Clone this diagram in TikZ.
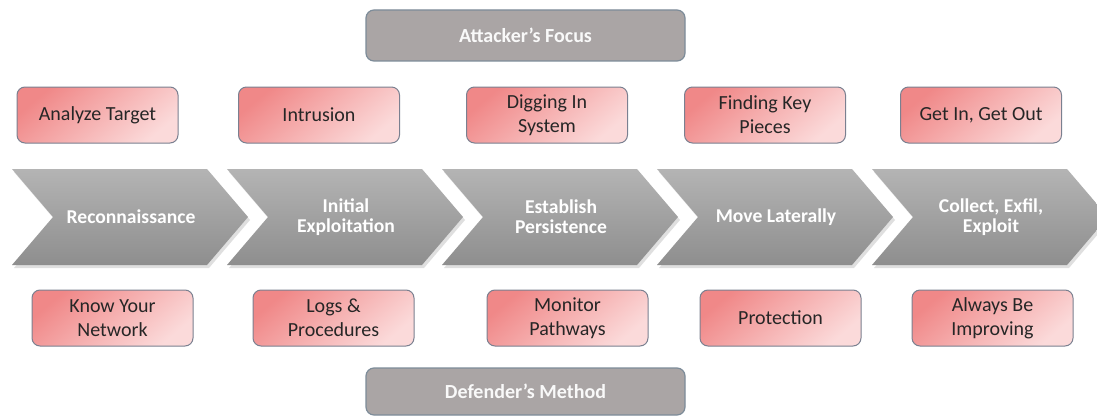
\documentclass[tikz,border=0pt]{standalone}
\usepackage{fontspec}
\setmainfont{Carlito}
\usetikzlibrary{shadows}
\definecolor{redTop}{HTML}{F08888}
\definecolor{redBot}{HTML}{FBDADA}
\definecolor{boxBorder}{HTML}{7A8090}
\definecolor{chevTop}{HTML}{B4B4B4}
\definecolor{chevBot}{HTML}{8E8E8E}
\definecolor{grayBox}{HTML}{AAA5A5}
\definecolor{grayBorder}{HTML}{7D8C99}
\definecolor{txt}{HTML}{262626}
\tikzset{
  redbox/.style={draw=boxBorder, line width=1pt, rounded corners=8pt,
    minimum width=161pt, minimum height=56pt, inner sep=0pt,
    top color=redTop, bottom color=redBot, shading angle=40,
    align=center, text=txt, font=\fontsize{20}{24}\selectfont},
  graybox/.style={draw=grayBorder, line width=1.2pt, rounded corners=8pt,
    minimum width=319pt, inner sep=0pt, fill=grayBox,
    text=white!95!gray, font=\bfseries\fontsize{20}{22}\selectfont},
  chevtext/.style={text=white, align=center, inner sep=0pt,
    font=\bfseries\fontsize{19.6}{20}\selectfont},
  chevron/.style={top color=chevTop, bottom color=chevBot,
    drop shadow={opacity=0.25, shadow xshift=2pt, shadow yshift=-3pt}}
}
\begin{document}
\begin{tikzpicture}[x=1pt,y=1pt]
\useasboundingbox (0,0) rectangle (1097,416);
\fill[white] (0,0) rectangle (1097,416);
% gray header boxes
\node[graybox, minimum height=51pt] (focus) at (525.5,380.5) {Attacker’s Focus};
\node[graybox, minimum height=47pt] (method) at (525.5,24.5) {Defender’s Method};
% chevrons
\begin{scope}
\clip (0,0) rectangle (1097,416);
\foreach \x/\name/\txt in {12/c1/Reconnaissance, 227/c2/{Initial\\Exploitation}, 442/c3/{Establish\\Persistence}, 657/c4/Move Laterally, 872/c5/{Collect, Exfil,\\Exploit}}{
  \path[chevron] (\x,247) -- (\x+195,247) -- (\x+236,199) -- (\x+195,151) -- (\x,151) -- (\x+41,199) -- cycle;
  \node[chevtext] (\name) at (\x+119,199) {\txt};
}
\end{scope}
% attacker boxes
\node[redbox] (a1) at (97.5,301) {Analyze Target};
\node[redbox] (a2) at (319,301) {Intrusion};
\node[redbox] (a3) at (547,301) {Digging In\\System};
\node[redbox] (a4) at (765,301) {Finding Key\\Pieces};
\node[redbox] (a5) at (981,301) {Get In, Get Out};
% defender boxes
\node[redbox] (d1) at (112.5,98) {Know Your\\Network};
\node[redbox] (d2) at (333.5,98) {Logs \&\\Procedures};
\node[redbox] (d3) at (567.5,98) {Monitor\\Pathways};
\node[redbox] (d4) at (780.5,98) {Protection};
\node[redbox] (d5) at (992.5,98) {Always Be\\Improving};
\end{tikzpicture}
\end{document}
